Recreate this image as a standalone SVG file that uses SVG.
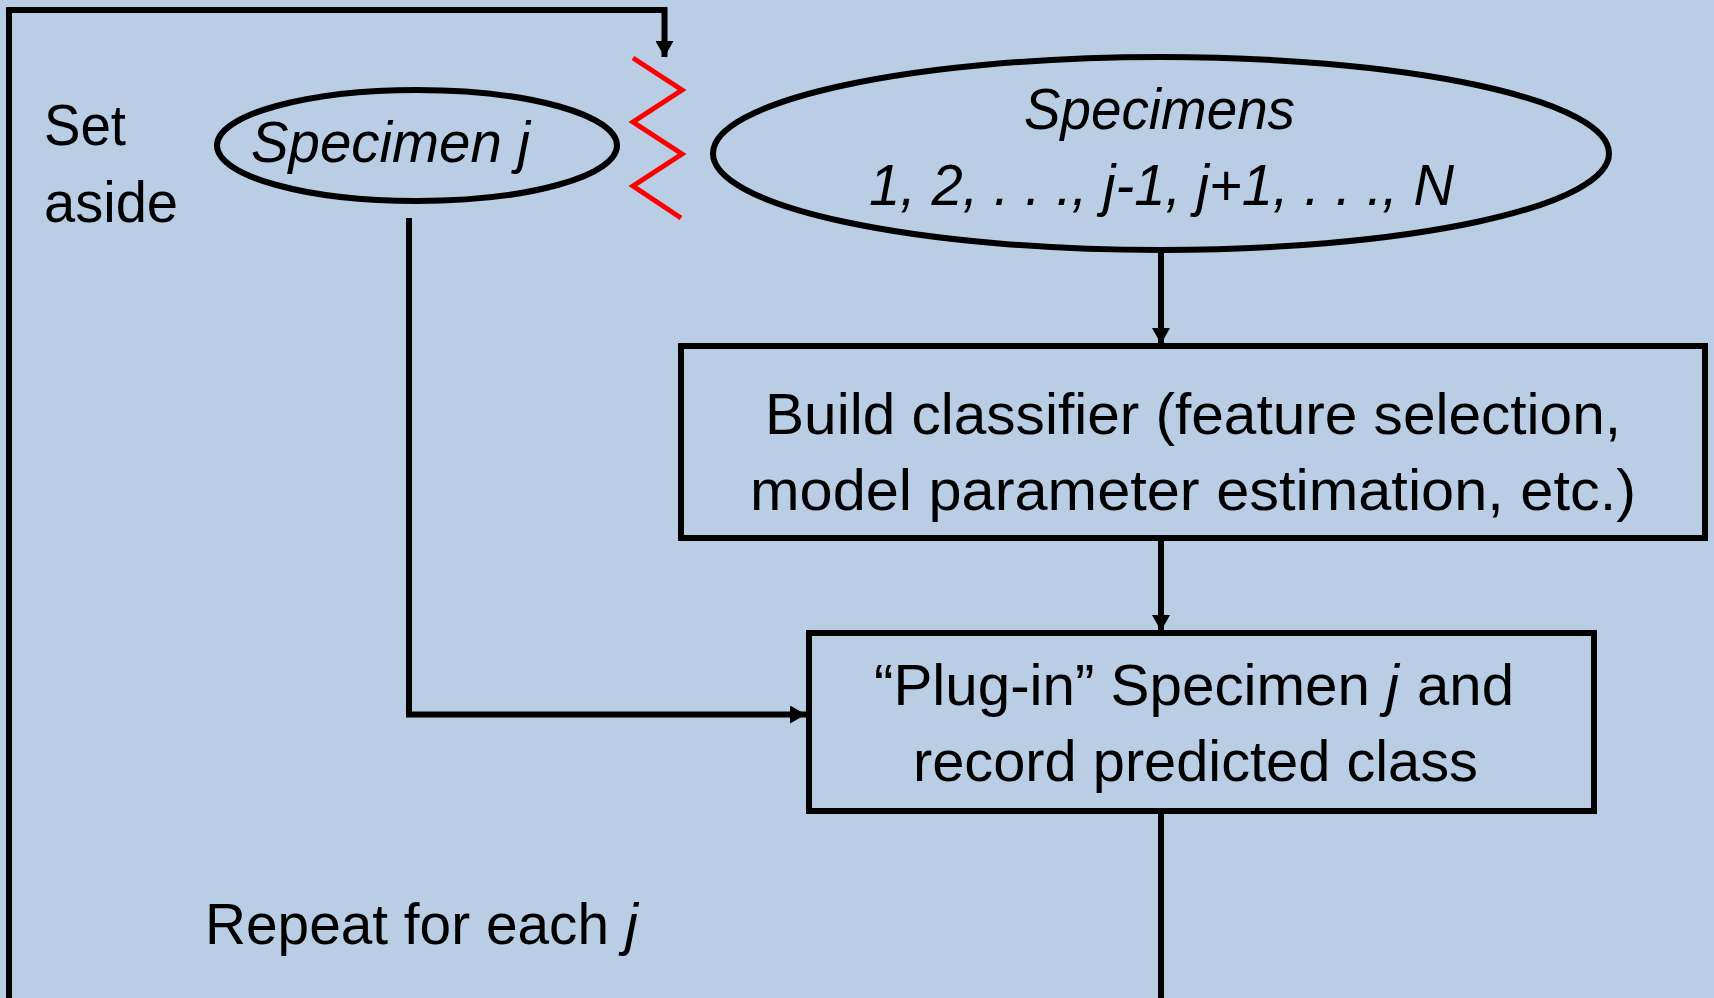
<svg xmlns="http://www.w3.org/2000/svg" width="1714" height="998" viewBox="0 0 1714 998">
<defs>
<style>
.t{font-family:"Liberation Sans",Arial,sans-serif;font-size:58px;fill:#000}
.i{font-style:italic}
.ln{fill:none;stroke:#000;stroke-width:6}
.nd{fill:none;stroke:#000;stroke-width:6}
</style>
<marker id="ah" markerUnits="userSpaceOnUse" markerWidth="18" markerHeight="18" refX="16" refY="9" orient="auto">
<path d="M0,0 L16,9 L0,18 Z" fill="#000"/>
</marker>
</defs>
<rect x="0" y="0" width="1714" height="998" fill="#B9CDE5"/>
<g id="connectors">
<polyline class="ln" points="9,998 9,10 664.5,10 664.5,57" marker-end="url(#ah)"/>
<polyline class="ln" points="409,218 409,714.5 806,714.5" marker-end="url(#ah)"/>
<line class="ln" x1="1161" y1="250" x2="1161" y2="344" marker-end="url(#ah)"/>
<line class="ln" x1="1161" y1="538" x2="1161" y2="631" marker-end="url(#ah)"/>
<line class="ln" x1="1161" y1="811" x2="1161" y2="998"/>
</g>
<g id="zigzag">
<polyline points="633,58 682,90 633,122 682,154 633,186 681,218" fill="none" stroke="#FF0000" stroke-width="5"/>
</g>
<g id="set-aside-label">
<text class="t" x="44" y="145" textLength="82" lengthAdjust="spacingAndGlyphs">Set</text>
<text class="t" x="44" y="222" textLength="134" lengthAdjust="spacingAndGlyphs">aside</text>
</g>
<g id="specimen-j">
<ellipse class="nd" cx="417" cy="145.5" rx="200" ry="55.5"/>
<text class="t i" x="251" y="162" textLength="279" lengthAdjust="spacingAndGlyphs">Specimen j</text>
</g>
<g id="specimens">
<ellipse class="nd" cx="1161" cy="153.5" rx="448" ry="96.5"/>
<text class="t i" x="1024" y="129" textLength="271" lengthAdjust="spacingAndGlyphs">Specimens</text>
<text class="t i" x="869" y="205" textLength="585" lengthAdjust="spacingAndGlyphs">1, 2, . . ., j-1, j+1, . . ., N</text>
</g>
<g id="build-classifier">
<rect class="nd" x="681" y="346" width="1024" height="192"/>
<text class="t" x="765" y="434" textLength="856" lengthAdjust="spacingAndGlyphs">Build classifier (feature selection,</text>
<text class="t" x="750" y="510" textLength="886" lengthAdjust="spacingAndGlyphs">model parameter estimation, etc.)</text>
</g>
<g id="plug-in">
<rect class="nd" x="809" y="633" width="785" height="178"/>
<text class="t" x="874" y="705" textLength="496" lengthAdjust="spacingAndGlyphs">“Plug-in” Specimen</text>
<text class="t i" x="1386" y="705">j</text>
<text class="t" x="1417" y="705" textLength="97" lengthAdjust="spacingAndGlyphs">and</text>
<text class="t" x="913" y="781" textLength="565" lengthAdjust="spacingAndGlyphs">record predicted class</text>
</g>
<g id="repeat-label">
<text class="t" x="205" y="944" textLength="404" lengthAdjust="spacingAndGlyphs">Repeat for each</text>
<text class="t i" x="625" y="944">j</text>
</g>
</svg>
